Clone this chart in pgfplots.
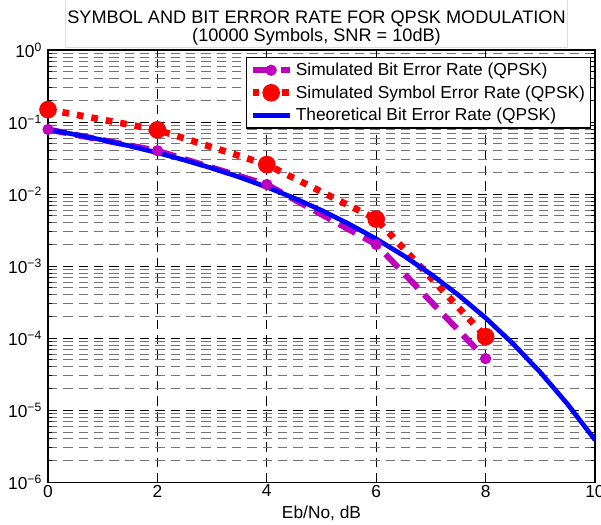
\documentclass[border=0pt]{standalone}
\usepackage{pgfplots}
\pgfplotsset{compat=1.18}
\usepackage{fontspec}
\setmainfont{Liberation Sans}
\usetikzlibrary{calc}
\definecolor{mymag}{rgb}{0.75,0,0.75}
\begin{document}
\begin{tikzpicture}
\begin{axis}[
  name=ax, scale only axis, width=410pt, height=324pt,
  xmin=0, xmax=10, ymode=log, ymin=1e-6, ymax=1,
  xtick={0,2,4,6,8,10},
  ytick={1e-6,1e-5,1e-4,1e-3,1e-2,1e-1,1},
  yticklabels={10\textsuperscript{−6},10\textsuperscript{−5},10\textsuperscript{−4},10\textsuperscript{−3},10\textsuperscript{−2},10\textsuperscript{−1},10\textsuperscript{0}},
  xmajorgrids, ymajorgrids, yminorgrids,
  major grid style={black, dash pattern=on 7pt off 4.5pt, line width=0.6pt},
  minor grid style={black!55, dash pattern=on 7pt off 4.5pt, line width=0.6pt},
  tick align=inside, tick pos=both,
  major tick length=5pt, minor tick length=3pt,
  every tick/.style={black, line width=0.6pt},
  axis line style={black, line width=1pt},
  ticklabel style={font=\fontsize{13}{15}\selectfont},
  /pgf/number format/assume math mode=true,
  yticklabel style={xshift=-1pt},
  xticklabel style={yshift=1.5pt},
  xlabel={Eb/No, dB},
  xlabel style={font=\fontsize{13}{15}\selectfont, at={(0.5,0)}, anchor=base, yshift=-27.5pt},
  every axis title shift=0pt,
  title={\rule{0pt}{22pt}SYMBOL AND BIT ERROR RATE FOR QPSK MODULATION\\(10000 Symbols, SNR = 10dB)},
  title style={at={(0.5,1)}, anchor=south, yshift=1.7pt, xshift=-3.75pt, draw=blue!15, line width=0.8pt,
    minimum width=374pt, align=center, inner sep=1.5pt,
    font=\fontsize{13.6}{13.3}\selectfont},
  legend style={at={(0.9927,0.984)}, anchor=north east, draw=black, line width=1pt,
    font=\fontsize{13}{15.5}\selectfont, cells={anchor=west}, inner sep=2pt, row sep=2pt},
  legend image code/.code={\draw[#1, mark repeat=2, mark phase=2] plot coordinates {(0pt,0pt) (14pt,0pt) (28pt,0pt)};},
]
\addplot[mymag, line width=4.5pt, line cap=butt, dash pattern=on 14pt off 7pt,
  mark=*, mark size=3.6pt, mark options={solid, fill=mymag, line width=1.2pt}]
  coordinates {(0,0.079) (2,0.040) (4,0.0136) (6,0.0020) (8,5.2e-5)};
\addlegendentry{Simulated Bit Error Rate (QPSK)}
\addplot[red, line width=5pt, line cap=butt, dash pattern=on 5pt off 6pt,
  mark=*, mark size=6pt, mark options={solid, fill=red, line width=1.2pt}]
  coordinates {(0,0.149) (2,0.078) (4,0.0257) (6,0.0045) (8,1.05e-4)};
\addlegendentry{Simulated Symbol Error Rate (QPSK)}
\addplot[blue, line width=3.5pt, line join=round]
  coordinates {(0,0.0786) (0.5,0.0671) (1,0.0563) (1.5,0.0464) (2,0.0375) (2.5,0.0296)
  (3,0.0229) (3.5,0.0172) (4,0.0125) (4.5,0.00880) (5,0.00595) (5.5,0.00386)
  (6,0.00239) (6.5,0.00140) (7,7.73e-4) (7.5,3.99e-4) (8,1.91e-4) (8.5,8.40e-5)
  (9,3.36e-5) (9.5,1.21e-5) (10,3.87e-6)};
\addlegendentry{Theoretical Bit Error Rate (QPSK)}
\end{axis}
\pgfresetboundingbox
\path ($(ax.south west)+(-36pt,-31.5pt)$) rectangle ($(ax.north east)+(4.5pt,37.5pt)$);
\end{tikzpicture}
\end{document}
